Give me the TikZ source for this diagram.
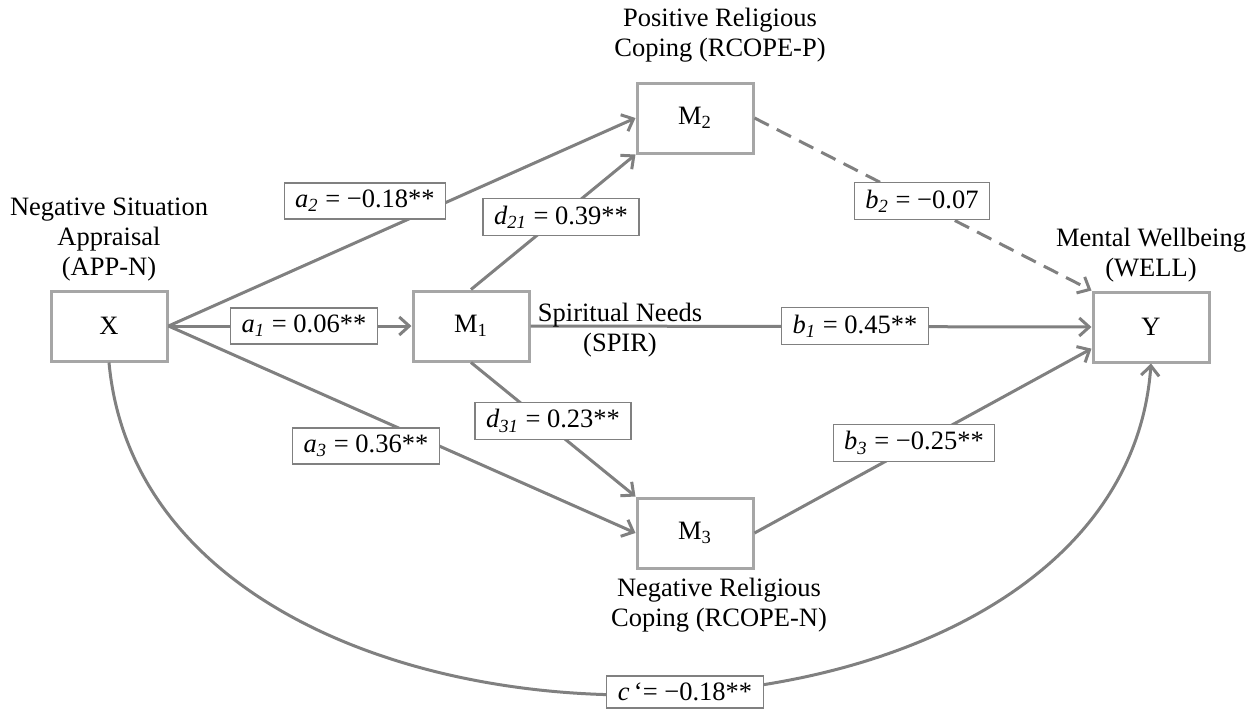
\documentclass[tikz,border=0pt]{standalone}
\usepackage{fontspec}
\setmainfont{Liberation Serif}
\usetikzlibrary{positioning,arrows.meta}
\definecolor{pathgray}{RGB}{128,128,128}
\definecolor{boxgray}{RGB}{166,166,166}
\newcommand{\pathcoef}[2]{\textit{#1}\textsubscript{\textit{#2}}}

\begin{document}
\begin{tikzpicture}[x=0.5pt,y=-0.5pt,
    font=\fontsize{13.25}{15}\selectfont,
    varbox/.style={draw=boxgray, line width=1.5pt, minimum width=58pt, minimum height=35pt, inner sep=0pt},
    coefbox/.style={draw=pathgray, line width=0.6pt, fill=white, inner xsep=5.5pt, inner ysep=3.5pt},
    effect/.style={draw=pathgray, line width=1.5pt, -{Straight Barb[length=5pt,width=9pt]}},
    varlabel/.style={align=center, inner sep=1pt}]
    \useasboundingbox (0,0) rectangle (1249,713);
    \node[varbox] (X) at (109,326) {X}; % predictor
    \node[varbox] (M1) at (471,326) {M\textsubscript{1}}; % first mediator
    \node[varbox] (M2) at (695,118) {M\textsubscript{2}};
    \node[varbox] (M3) at (695,533) {M\textsubscript{3}};
    \node[varbox] (Y) at (1151,327) {Y}; % outcome
    \node[varlabel, above=3pt of X] (Xname) {Negative Situation\\Appraisal\\(APP-N)};
    \node[varlabel] (M2name) at (720,35) {Positive Religious\\Coping (RCOPE-P)};
    \node[varlabel, above=3pt of Y] (Yname) {Mental Wellbeing\\(WELL)};
    \node[varlabel, below=3pt of M3, xshift=12pt] (M3name) {Negative Religious\\Coping (RCOPE-N)};
    \draw[effect] (X.east) -- (M2.west); % a2
    \draw[effect] (X.east) -- (M1.west); % a1
    \draw[effect] (X.east) -- (M3.west); % a3
    \draw[effect] (M1.north) -- (M2.south west); % d21
    \draw[effect] (M1.south) -- (M3.north west); % d31
    \draw[effect] (M1.east) -- (Y.west); % b1
    \draw[effect, dash pattern=on 8pt off 4.5pt] (M2.east) -- (Y.north west); % b2, not significant
    \draw[effect] (M3.east) -- (Y.-160); % b3
    \draw[effect] (X.south) .. controls (150,810) and (1120,800) .. (Y.south); % direct effect
    \node[varlabel] (M1name) at (620,330) {Spiritual Needs\\(SPIR)};
    \node[coefbox] (a2) at (365,201) {\pathcoef{a}{2} = −0.18**};
    \node[coefbox] (a1) at (304,326) {\pathcoef{a}{1} = 0.06**};
    \node[coefbox] (a3) at (366,446) {\pathcoef{a}{3} = 0.36**};
    \node[coefbox] (d21) at (561,217) {\pathcoef{d}{21} = 0.39**};
    \node[coefbox] (d31) at (553,421) {\pathcoef{d}{31} = 0.23**};
    \node[coefbox] (b2) at (922,201) {\pathcoef{b}{2} = −0.07};
    \node[coefbox] (b1) at (855,326) {\pathcoef{b}{1} = 0.45**};
    \node[coefbox] (b3) at (914,443) {\pathcoef{b}{3} = −0.25**};
    \node[coefbox] (c) at (685,692) {\textit{c}\,‘= −0.18**};
\end{tikzpicture}
\end{document}
